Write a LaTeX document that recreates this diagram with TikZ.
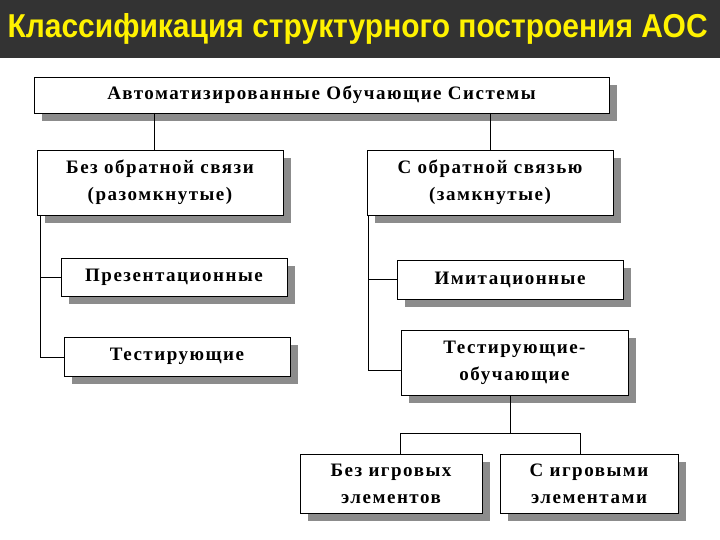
\documentclass[tikz,border=0pt]{standalone}
\usepackage{fontspec}
\setmainfont{Liberation Serif}[LetterSpace=8]
\newfontfamily\titlefont{Liberation Sans}
\begin{document}
\begin{tikzpicture}[x=1pt,y=-1pt,
  bx/.style={draw=black,fill=white,line width=0.8pt,font=\bfseries\fontsize{19}{27}\selectfont,align=center,inner sep=0pt},
  ln/.style={line width=0.8pt}]
\useasboundingbox (0,0) rectangle (720,540);
\fill[white] (0,0) rectangle (720,540);
\fill[black!80] (0,0) rectangle (720,58);
\node[anchor=west,text=yellow,font=\titlefont\bfseries] (title) at (4,29)
  {\resizebox{700pt}{24pt}{Классификация структурного построения АОС}};
\newcommand\mybox[6]{%
  \fill[black!45] (#2+8,#3+8) rectangle (#4+8,#5+8);
  \node[bx,minimum width=#4-#2,minimum height=#5-#3] (#1) at ({(#2+#4)/2},{(#3+#5)/2}) {#6};}
\mybox{top}{34}{77}{609}{113}{Автоматизированные Обучающие Системы}
\mybox{L}{37}{150}{283}{215}{Без обратной связи\\(разомкнутые)}
\mybox{R}{367}{150}{613}{215}{С обратной связью\\(замкнутые)}
\mybox{L1}{61}{258}{287}{296}{Презентационные}
\mybox{L2}{64}{337}{290}{376}{Тестирующие}
\mybox{R1}{397}{260}{623}{299}{Имитационные}
\mybox{R2}{401}{330}{628}{395}{Тестирующие-\\обучающие}
\mybox{B1}{300}{454}{482}{513}{Без игровых\\элементов}
\mybox{B2}{500}{454}{678}{513}{С игровыми\\элементами}
\coordinate (lt) at (40,215); \coordinate (lb) at (40,357);
\coordinate (rt) at (368,215); \coordinate (rb) at (368,370);
\coordinate (m) at (510,433); \coordinate (ml) at (400,433); \coordinate (mr) at (580,433);
\draw[ln] (154,113) -- (154,150);
\draw[ln] (490,113) -- (490,150);
\draw[ln] (lt) -- (lb) -- (L2.west|-lb);
\draw[ln] (40,277) -- (L1.west|-0,277);
\draw[ln] (rt) -- (rb) -- (R2.west|-rb);
\draw[ln] (368,279) -- (R1.west|-0,279);
\draw[ln] (R2.south-|m) -- (m);
\draw[ln] (ml) -- (mr);
\draw[ln] (ml) -- (ml|-B1.north);
\draw[ln] (mr) -- (mr|-B2.north);
\end{tikzpicture}
\end{document}
